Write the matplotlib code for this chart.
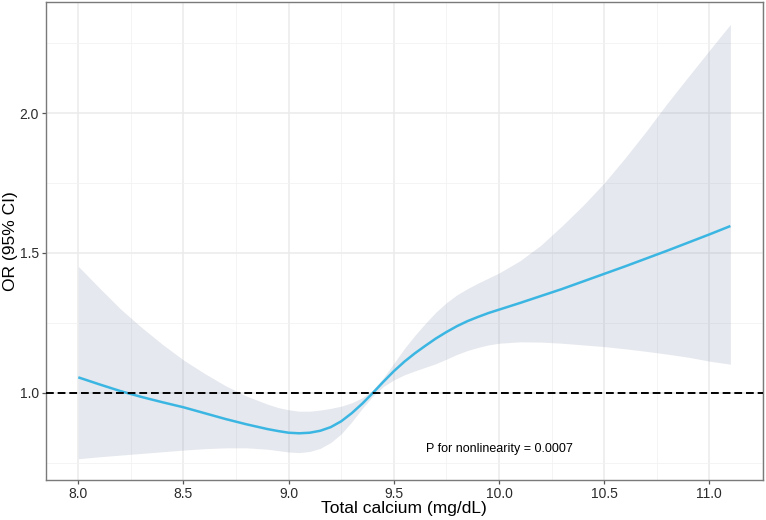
import matplotlib
matplotlib.use("Agg")
import matplotlib.pyplot as plt
from matplotlib.ticker import MultipleLocator

plt.rcParams['font.family'] = ['Liberation Sans', 'DejaVu Sans']

calcium = [8.0, 8.1, 8.2, 8.3, 8.4, 8.5, 8.6, 8.7, 8.8, 8.9, 8.95, 9.0, 9.05, 9.1, 9.15,
           9.2, 9.25, 9.3, 9.35, 9.4, 9.45, 9.5, 9.55, 9.6, 9.65, 9.7, 9.75, 9.8, 9.85,
           9.9, 9.95, 10.0, 10.1, 10.2, 10.3, 10.4, 10.5, 10.6, 10.7, 10.8, 10.9, 11.0, 11.1]
or_est = [1.055, 1.030, 1.006, 0.985, 0.966, 0.948, 0.927, 0.906, 0.887, 0.870, 0.863,
          0.857, 0.855, 0.857, 0.864, 0.877, 0.898, 0.927, 0.961, 0.999, 1.039, 1.077,
          1.111, 1.141, 1.168, 1.194, 1.217, 1.238, 1.256, 1.271, 1.285, 1.297, 1.321,
          1.346, 1.371, 1.398, 1.425, 1.452, 1.480, 1.508, 1.537, 1.566, 1.596]
or_upper = [1.452, 1.375, 1.300, 1.234, 1.173, 1.117, 1.069, 1.025, 0.988, 0.959, 0.947,
            0.939, 0.934, 0.934, 0.938, 0.944, 0.952, 0.964, 0.982, 1.010, 1.053, 1.105,
            1.158, 1.205, 1.248, 1.288, 1.322, 1.350, 1.372, 1.392, 1.410, 1.428, 1.472,
            1.528, 1.597, 1.670, 1.750, 1.840, 1.935, 2.035, 2.130, 2.224, 2.317]
or_lower = [0.764, 0.771, 0.777, 0.783, 0.789, 0.795, 0.800, 0.803, 0.803, 0.798, 0.793,
            0.788, 0.786, 0.790, 0.801, 0.822, 0.853, 0.896, 0.944, 0.988, 1.022, 1.046,
            1.064, 1.078, 1.091, 1.104, 1.120, 1.137, 1.151, 1.162, 1.171, 1.177, 1.182,
            1.181, 1.177, 1.171, 1.165, 1.157, 1.148, 1.138, 1.127, 1.113, 1.102]

x_ticks = [8.0, 8.5, 9.0, 9.5, 10.0, 10.5, 11.0]
y_ticks = [1.0, 1.5, 2.0]
ref_value = 1.0
annotation = "P for nonlinearity = 0.0007"

fig = plt.figure(figsize=(7.66, 5.20), dpi=100)
ax = fig.add_axes([45.7 / 766, 1 - 480 / 520, (763 - 45.7) / 766, (480 - 2) / 520])

ax.set_xlim(7.845, 11.255)
ax.set_ylim(0.688, 2.397)

ax.set_xticks(x_ticks)
ax.set_yticks(y_ticks)
ax.xaxis.set_minor_locator(MultipleLocator(0.25))
ax.yaxis.set_minor_locator(MultipleLocator(0.25))
ax.set_xticklabels([f"{v:.1f}" for v in x_ticks])
ax.set_yticklabels([f"{v:.1f}" for v in y_ticks])

ax.set_axisbelow(True)
ax.grid(which='major', color='#EBEBEB', linewidth=1.1)
ax.grid(which='minor', color='#F2F2F2', linewidth=0.6)

ax.fill_between(calcium, or_lower, or_upper, color='#7D8CAA', alpha=0.2,
                linewidth=0, zorder=2)
ax.plot(calcium, or_est, color='#3BB6E2', linewidth=1.8, zorder=3,
        solid_capstyle='butt', solid_joinstyle='round')
ax.axhline(ref_value, color='black', linewidth=1.4, linestyle=(0, (4, 2)), zorder=4)

ax.text(10.0, 0.80, annotation, ha='center', va='center', fontsize=9.0,
        color='black')

for s in ax.spines.values():
    s.set_color('#7A7A7A')
    s.set_linewidth(1.0)

ax.tick_params(axis='both', which='major', length=3, width=0.9, color='#555555',
               labelsize=10, labelcolor='#2B2B2B', pad=2)
ax.tick_params(axis='both', which='minor', length=0)

ax.set_xlabel("Total calcium (mg/dL)", fontsize=12.5, color='black')
ax.set_ylabel("OR (95% CI)", fontsize=12.5, color='black')
ax.xaxis.set_label_coords(0.5, -(508 - 480) / 478, transform=ax.transAxes)
ax.yaxis.set_label_coords((10.5 - 45.7) / 717.3, 0.5, transform=ax.transAxes)
ax.xaxis.label.set_va('center')
ax.yaxis.label.set_va('center')

fig.savefig("out.png", dpi=100)
